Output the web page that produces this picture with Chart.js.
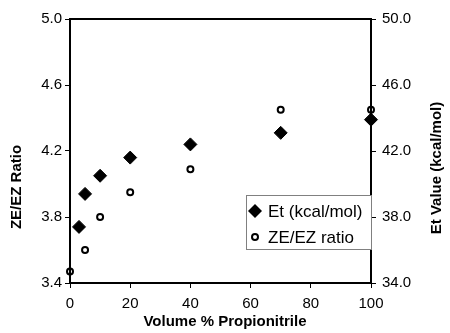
<!DOCTYPE html>
<html>
<head>
<meta charset="utf-8">
<script src="https://cdn.jsdelivr.net/npm/chart.js@4/dist/chart.umd.min.js"></script>
<style>
  body { margin: 0; background: #fff; }
  #wrap { width: 450px; height: 333px; }
</style>
</head>
<body>
<div id="wrap"><canvas id="myChart1" width="450" height="333"></canvas></div>
<script>
// データ
const volPctEt = [3, 5, 10, 20, 40, 70, 100];
const etValues = [37.4, 39.4, 40.5, 41.6, 42.4, 43.1, 43.9];
const volPctRatio = [0, 5, 10, 20, 40, 70, 100];
const ratioValues = [3.47, 3.6, 3.8, 3.95, 4.09, 4.45, 4.45];

const xTitle = "Volume % Propionitrile";
const yTitle = "ZE/EZ Ratio";
const y2Title = "Et Value (kcal/mol)";
const etLabel = "Et (kcal/mol)";
const ratioLabel = "ZE/EZ ratio";

const FONT = "'Liberation Sans', Arial, sans-serif";

// 枠線と軸タイトルと凡例
const extras = {
    id: "extras",
    afterDraw(chart) {
        const ctx = chart.ctx;
        const a = chart.chartArea;
        ctx.save();
        // 上の線
        ctx.strokeStyle = "#000";
        ctx.lineWidth = 2;
        ctx.beginPath();
        ctx.moveTo(a.left - 1, a.top);
        ctx.lineTo(a.right + 1, a.top);
        ctx.stroke();

        // 軸タイトル
        ctx.fillStyle = "#000";
        ctx.font = "bold 15px " + FONT;
        ctx.textAlign = "center";
        ctx.textBaseline = "middle";
        ctx.fillText(xTitle, 225, 322);
        ctx.save();
        ctx.translate(17, 187);
        ctx.rotate(-Math.PI / 2);
        ctx.fillText(yTitle, 0, 0);
        ctx.restore();
        ctx.save();
        ctx.translate(437, 168);
        ctx.rotate(-Math.PI / 2);
        ctx.fillText(y2Title, 0, 0);
        ctx.restore();

        // 凡例
        const bx = a.right - 125, by = a.top + 176, bw = 125, bh = 54;
        ctx.fillStyle = "#fff";
        ctx.fillRect(bx, by, bw, bh);
        ctx.strokeStyle = "#808080";
        ctx.lineWidth = 1;
        ctx.strokeRect(bx + 0.5, by + 0.5, bw, bh);

        const mx = bx + 9, y1 = by + 16, y2 = by + 42;
        ctx.fillStyle = "#000";
        ctx.beginPath();
        ctx.moveTo(mx, y1 - 7);
        ctx.lineTo(mx + 7, y1);
        ctx.lineTo(mx, y1 + 7);
        ctx.lineTo(mx - 7, y1);
        ctx.closePath();
        ctx.fill();
        ctx.strokeStyle = "#000";
        ctx.lineWidth = 2;
        ctx.beginPath();
        ctx.arc(mx, y2, 3, 0, Math.PI * 2);
        ctx.stroke();

        ctx.font = "17px " + FONT;
        ctx.textAlign = "left";
        ctx.fillText(etLabel, bx + 22, y1 + 1);
        ctx.fillText(ratioLabel, bx + 22, y2 + 1);
        ctx.restore();
    }
};

window.onload = function(){
    const ctx = document.getElementById("myChart1").getContext("2d");
    const myChart = new Chart(ctx, {
        type: "scatter",
        data: {
            datasets: [
                {
                    label: etLabel,
                    data: volPctEt.map((x, i) => ({ x: x, y: etValues[i] })),
                    yAxisID: "y2",
                    pointStyle: "rectRot",
                    pointRadius: 6.5,
                    backgroundColor: "#000",
                    borderColor: "#000",
                    borderWidth: 1,
                    clip: false,
                },
                {
                    label: ratioLabel,
                    data: volPctRatio.map((x, i) => ({ x: x, y: ratioValues[i] })),
                    yAxisID: "y",
                    pointStyle: "circle",
                    pointRadius: 3,
                    backgroundColor: "rgba(0,0,0,0)",
                    borderColor: "#000",
                    borderWidth: 2,
                    clip: false,
                },
            ],
        },
        options: {
            responsive: false,
            animation: false,
            layout: { padding: { top: 19, left: 0, right: 0, bottom: 0 } },
            plugins: {
                legend: { display: false },
                tooltip: { enabled: false },
            },
            scales: {
                x: {
                    type: "linear",
                    min: 0,
                    max: 100,
                    ticks: {
                        stepSize: 20,
                        maxRotation: 0,
                        padding: 7,
                        color: "#000",
                        font: { family: FONT, size: 15 },
                    },
                    grid: { drawOnChartArea: false, tickLength: 5, color: "#000" },
                    border: { display: true, width: 2, color: "#000" },
                    afterFit: (s) => { s.height = 50; },
                },
                y: {
                    position: "left",
                    min: 3.4,
                    max: 5.0,
                    ticks: {
                        stepSize: 0.4,
                        padding: 3,
                        color: "#000",
                        font: { family: FONT, size: 15 },
                        callback: (v) => Number(v).toFixed(1),
                    },
                    grid: { drawOnChartArea: false, tickLength: 5, color: "#000" },
                    border: { display: true, width: 2, color: "#000" },
                    afterFit: (s) => { s.width = 70; },
                },
                y2: {
                    position: "right",
                    min: 34,
                    max: 50,
                    ticks: {
                        stepSize: 4,
                        padding: 6,
                        color: "#000",
                        font: { family: FONT, size: 15 },
                        callback: (v) => Number(v).toFixed(1),
                    },
                    grid: { drawOnChartArea: false, tickLength: 5, color: "#000" },
                    border: { display: true, width: 2, color: "#000" },
                    afterFit: (s) => { s.width = 79; },
                },
            },
        },
        plugins: [extras],
    });
};
</script>
</body>
</html>
